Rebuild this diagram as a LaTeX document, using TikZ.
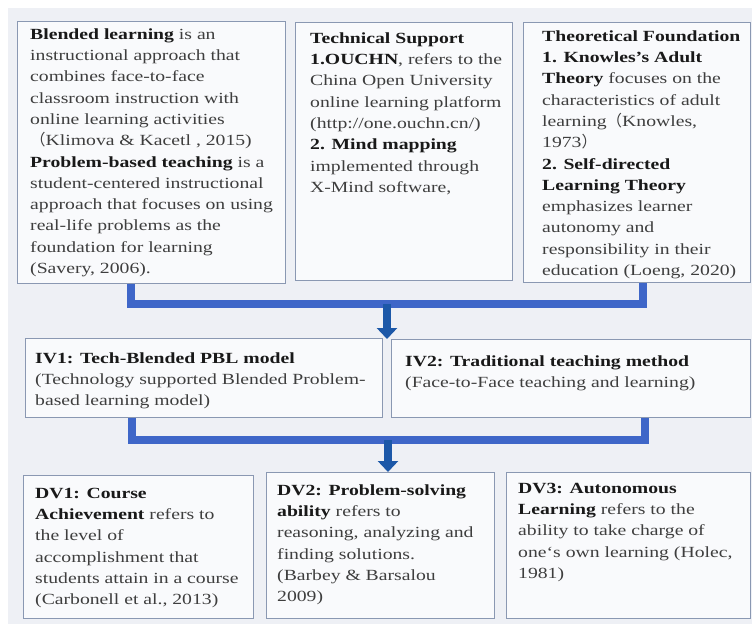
\documentclass[tikz,border=0pt]{standalone}
\usepackage{fontspec}
\setmainfont[FakeStretch=1.27]{Liberation Serif}
\newfontfamily\cjk{Noto Sans CJK SC}
\usetikzlibrary{arrows.meta}
\definecolor{bgc}{RGB}{238,240,245}
\definecolor{boxfill}{RGB}{249,250,252}
\definecolor{boxline}{RGB}{138,152,178}
\definecolor{barc}{RGB}{62,102,200}
\definecolor{arrc}{RGB}{28,88,168}
\definecolor{txtc}{RGB}{62,62,62}
\newcommand{\hd}[1]{\textbf{\color{black!90}#1}}
\newcommand{\fst}{\rule{0pt}{12pt}}
\begin{document}
\begin{tikzpicture}[x=1pt,y=-1pt,
  panel/.style={draw=boxline, line width=1.3pt, fill=boxfill, rectangle, inner sep=0pt, anchor=north west},
  txt/.style={anchor=north west, inner sep=0pt, align=left, text=txtc, font=\fontsize{15.5pt}{21.3pt}\selectfont},
  bar/.style={draw=barc, line width=8pt},
  arr/.style={draw=arrc, line width=8pt, -{Triangle[width=20pt,length=11pt]}}]
\useasboundingbox (0,0) rectangle (752,624);
\fill[white] (0,0) rectangle (752,624);
\fill[bgc] (8,8) rectangle (752,624);

% top row panels
\node[panel, minimum width=268pt, minimum height=262pt] (b1) at (17,21) {};
\node[panel, minimum width=217pt, minimum height=258pt] (b2) at (295,22) {};
\node[panel, minimum width=227pt, minimum height=260pt] (b3) at (523,22) {};
% middle row
\node[panel, minimum width=357pt, minimum height=79pt] (iv1) at (25,338) {};
\node[panel, minimum width=359pt, minimum height=78pt] (iv2) at (391,339) {};
% bottom row
\node[panel, minimum width=230pt, minimum height=143pt] (dv1) at (23,475) {};
\node[panel, minimum width=228pt, minimum height=146pt] (dv2) at (266,472) {};
\node[panel, minimum width=244pt, minimum height=146pt] (dv3) at (506,472) {};

% texts
\node[txt] (t1) at (30,27) {\fst\hd{Blended learning} is an\\
instructional approach that\\
combines face-to-face\\
classroom instruction with\\
online learning activities\\
{\cjk （}Klimova \& Kacetl , 2015)\\
\hd{Problem-based teaching} is a\\
student-centered instructional\\
approach that focuses on using\\
real-life problems as the\\
foundation for learning\\
(Savery, 2006).};

\node[txt] (t2) at (310,31) {\fst\hd{Technical Support}\\
\hd{1.OUCHN}, refers to the\\
China Open University\\
online learning platform\\
(http://one.ouchn.cn/)\\
\hd{2. Mind mapping}\\
implemented through\\
X-Mind software,};

\node[txt] (t3) at (542,29) {\fst\hd{Theoretical Foundation}\\
\hd{1. Knowles's Adult}\\
\hd{Theory} focuses on the\\
characteristics of adult\\
learning{\cjk （}Knowles,\\
1973{\cjk ）}\\
\hd{2. Self-directed}\\
\hd{Learning Theory}\\
emphasizes learner\\
autonomy and\\
responsibility in their\\
education (Loeng, 2020)};

\node[txt] (t4) at (35,351) {\fst\hd{IV1: Tech-Blended PBL model}\\
(Technology supported Blended Problem-\\
based learning model)};

\node[txt] (t5) at (405,354) {\fst\hd{IV2: Traditional teaching method}\\
(Face-to-Face teaching and learning)};

\node[txt] (t6) at (35,486) {\fst\hd{DV1: Course}\\
\hd{Achievement} refers to\\
the level of\\
accomplishment that\\
students attain in a course\\
(Carbonell et al., 2013)};

\node[txt] (t7) at (277,483) {\fst\hd{DV2: Problem-solving}\\
\hd{ability} refers to\\
reasoning, analyzing and\\
finding solutions.\\
(Barbey \& Barsalou\\
2009)};

\node[txt] (t8) at (518,481) {\fst\hd{DV3: Autonomous}\\
\hd{Learning} refers to the\\
ability to take charge of\\
one`s own learning (Holec,\\
1981)};

% connectors
\coordinate (jt) at (387,304);
\coordinate (it) at (387,339);
\draw[bar] ([xshift=114pt]b1.south west) |- (jt) -| ([xshift=120pt]b3.south west);
\draw[arr] (jt) -- (it);

\coordinate (jm) at (388,440);
\draw[bar] ([xshift=107pt]iv1.south west) |- (jm) -| ([xshift=254pt]iv2.south west);
\draw[arr] (jm) -- (jm |- dv2.north);
\end{tikzpicture}
\end{document}
